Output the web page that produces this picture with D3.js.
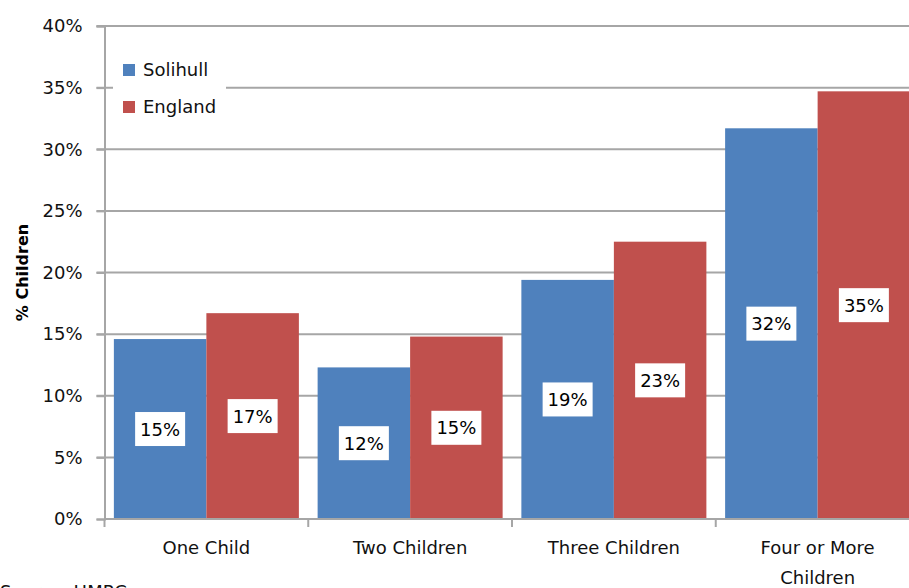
<!DOCTYPE html>
<html><head><meta charset="utf-8">
<script src="https://cdn.jsdelivr.net/npm/d3@7"></script>
<style>body{margin:0;background:#fff;overflow:hidden}svg{display:block}</style>
</head><body>
<script>
const categories = ["One Child", "Two Children", "Three Children", "Four or More Children"];
const categoryLines = [["One Child"], ["Two Children"], ["Three Children"], ["Four or More", "Children"]];
const seriesNames = ["Solihull", "England"];
const solihull = [14.6, 12.3, 19.4, 31.7];
const england = [16.7, 14.8, 22.5, 34.7];
const yTicks = [0, 5, 10, 15, 20, 25, 30, 35, 40];
const colors = ["#4F81BD", "#C0504D"];

const W = 909, H = 588;
const plotLeft = 104.5, plotTop = 26, plotBottom = 519, plotRight = 919.5;
const font = "DejaVu Sans, Verdana, sans-serif";

const svg = d3.select("body").append("svg").attr("width", W).attr("height", H);

const x = d3.scaleBand().domain(categories).range([plotLeft, plotRight]).paddingInner(0.092).paddingOuter(0.046);
const xOuter = d3.scaleBand().domain(categories).range([plotLeft, plotRight]);
const xs = d3.scaleBand().domain(seriesNames).range([0, x.bandwidth()]);
const y = d3.scaleLinear().domain([0, 40]).range([plotBottom, plotTop]);

// gridlines
svg.append("g").selectAll("line").data(yTicks.filter(t => t > 0)).join("line")
  .attr("x1", plotLeft - 8).attr("x2", W)
  .attr("y1", d => y(d)).attr("y2", d => y(d))
  .attr("stroke", "#a6a6a6").attr("stroke-width", 2);

// y axis
const yAxis = d3.axisLeft(y).tickValues(yTicks).tickFormat(d => d + "%").tickSize(8).tickPadding(14);
const ya = svg.append("g").attr("transform", `translate(${plotLeft},0)`).call(yAxis);
ya.select(".domain").attr("stroke", "#a6a6a6").attr("stroke-width", 2);
ya.selectAll(".tick line").attr("stroke", "#a6a6a6").attr("stroke-width", 2);
ya.selectAll("text").attr("font-family", font).attr("font-size", 18).attr("fill", "#111");

// bars
const data = categories.map((c, i) => ({cat: c, vals: [solihull[i], england[i]]}));
const groups = svg.append("g").selectAll("g").data(data).join("g")
  .attr("transform", d => `translate(${x(d.cat)},0)`);
groups.selectAll("rect").data(d => d.vals.map((v, j) => ({s: seriesNames[j], v, j}))).join("rect")
  .attr("x", d => xs(d.s)).attr("width", xs.bandwidth())
  .attr("y", d => y(d.v)).attr("height", d => y(0) - y(d.v))
  .attr("fill", d => colors[d.j]);

// labels
const lbl = groups.selectAll("g.lbl").data(d => d.vals.map((v, j) => ({s: seriesNames[j], v, j}))).join("g")
  .attr("class", "lbl")
  .attr("transform", d => `translate(${xs(d.s) + xs.bandwidth() / 2},${(y(d.v) + y(0)) / 2})`);
lbl.append("rect").attr("x", -25).attr("y", -17).attr("width", 50).attr("height", 34).attr("fill", "#fff");
lbl.append("text").attr("text-anchor", "middle").attr("dy", "0.36em")
  .attr("font-family", font).attr("font-size", 18).attr("fill", "#000")
  .text(d => Math.round(d.v) + "%");

// x axis
const xa = svg.append("g").attr("transform", `translate(0,${plotBottom})`);
xa.append("line").attr("x1", plotLeft).attr("x2", plotRight).attr("stroke", "#a6a6a6").attr("stroke-width", 2);
xa.selectAll("line.t").data(categories).join("line").attr("class", "t")
  .attr("x1", d => xOuter(d)).attr("x2", d => xOuter(d)).attr("y1", 0).attr("y2", 8)
  .attr("stroke", "#a6a6a6").attr("stroke-width", 2);
xa.selectAll("text").data(categories).join("text")
  .attr("x", d => xOuter(d) + xOuter.bandwidth() / 2).attr("y", 35)
  .attr("text-anchor", "middle").attr("font-family", font).attr("font-size", 18).attr("fill", "#111")
  .each(function(d, i) {
    d3.select(this).selectAll("tspan").data(categoryLines[i]).join("tspan")
      .attr("x", xOuter(d) + xOuter.bandwidth() / 2).attr("dy", (t, k) => k === 0 ? 0 : 30).text(t => t);
  });

// y title
svg.append("text").attr("transform", `translate(28,${(plotTop + plotBottom) / 2}) rotate(-90)`)
  .attr("text-anchor", "middle").attr("font-family", font).attr("font-weight", "bold")
  .attr("font-size", 16).attr("fill", "#000").text("% Children");

// legend
const lg = svg.append("g");
lg.append("rect").attr("x", 113).attr("y", 50).attr("width", 113).attr("height", 75).attr("fill", "#fff");
const li = lg.selectAll("g").data(seriesNames).join("g")
  .attr("transform", (d, i) => `translate(123,${70 + i * 37})`);
li.append("rect").attr("x", 0).attr("y", -6).attr("width", 12).attr("height", 12).attr("fill", (d, i) => colors[i]);
li.append("text").attr("x", 20).attr("dy", "0.36em").attr("font-family", font).attr("font-size", 18)
  .attr("fill", "#111").text(d => d);

// source
svg.append("text").attr("x", 0).attr("y", 598).attr("font-family", font).attr("font-size", 18)
  .attr("fill", "#111").text("Source: HMRC");
</script>
</body></html>
